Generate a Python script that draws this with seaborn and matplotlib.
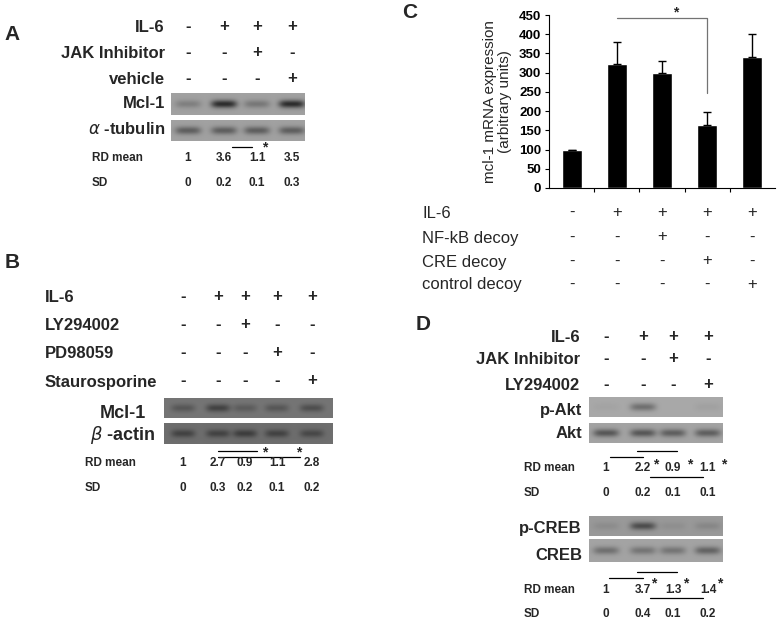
import numpy as np
import pandas as pd
import seaborn as sns
from matplotlib import pyplot as plt
from matplotlib.transforms import blended_transform_factory

# ---- panel C: mcl-1 mRNA expression (bar chart) ----
c_groups = ["g1", "g2", "g3", "g4", "g5"]
c_values = [100, 323, 298, 165, 340]
c_errors = [0, 57, 33, 33, 60]
c_yticks = [0, 50, 100, 150, 200, 250, 300, 350, 400, 450]
c_rows = ["IL-6", "NF-kB decoy", "CRE decoy", "control decoy"]
c_signs = [["-", "+", "+", "+", "+"],
           ["-", "-", "+", "-", "-"],
           ["-", "-", "-", "+", "-"],
           ["-", "-", "-", "-", "+"]]

# ---- panel A ----
a_rows = ["IL-6", "JAK Inhibitor", "vehicle"]
a_signs = [["-", "+", "+", "+"],
           ["-", "-", "+", "-"],
           ["-", "-", "-", "+"]]
a_blots = ["Mcl-1", r"$\alpha$ -tubulin"]
a_bands = [[0.13, 0.46, 0.16, 0.46],
           [0.26, 0.26, 0.26, 0.26]]
a_rd = ["1", "3.6", "1.1", "3.5"]
a_sd = ["0", "0.2", "0.1", "0.3"]

# ---- panel B ----
b_rows = ["IL-6", "LY294002", "PD98059", "Staurosporine"]
b_signs = [["-", "+", "+", "+", "+"],
           ["-", "-", "+", "-", "-"],
           ["-", "-", "-", "+", "-"],
           ["-", "-", "-", "-", "+"]]
b_blots = ["Mcl-1", r"$\beta$ -actin"]
b_bands = [[0.12, 0.2, 0.1, 0.12, 0.15],
           [0.17, 0.17, 0.19, 0.17, 0.15]]
b_rd = ["1", "2.7", "0.9", "1.1", "2.8"]
b_sd = ["0", "0.3", "0.2", "0.1", "0.2"]

# ---- panel D ----
d_rows = ["IL-6", "JAK Inhibitor", "LY294002"]
d_signs = [["-", "+", "+", "+"],
           ["-", "-", "+", "-"],
           ["-", "-", "-", "+"]]
d_blots = ["p-Akt", "Akt", "p-CREB", "CREB"]
d_bands = [[0.02, 0.22, 0.0, 0.03],
           [0.3, 0.3, 0.27, 0.27],
           [0.05, 0.3, 0.04, 0.07],
           [0.2, 0.18, 0.18, 0.25]]
d_rd_akt = ["1", "2.2", "0.9", "1.1"]
d_sd_akt = ["0", "0.2", "0.1", "0.1"]
d_rd_creb = ["1", "3.7", "1.3", "1.4"]
d_sd_creb = ["0", "0.4", "0.1", "0.2"]

sns.set_style("ticks")
plt.rcParams['font.family'] = ['Liberation Sans', 'DejaVu Sans']

fig = plt.figure(figsize=(7.83, 6.23), dpi=100)
bg = fig.add_axes([0, 0, 1, 1])
bg.set_xlim(0, 783)
bg.set_ylim(623, 0)
bg.set_autoscale_on(False)
bg.axis("off")

LBL = 12
SMALL = 8.5


def txt(x, y, s, ha="center", size=LBL, weight="bold", **kw):
    bg.text(x, y, s, ha=ha, va="center", fontsize=size,
            fontweight=weight, **kw)


def blot(x0, x1, y0, y1, lanes, dark, base, hw=13, hh=4.0):
    xs = np.linspace(x0, x1, int(x1 - x0) * 2)
    ys = np.linspace(y0, y1, int(y1 - y0) * 2)
    X, Y = np.meshgrid(xs, ys)
    img = np.full_like(X, base)
    yc = (y0 + y1) / 2
    for xc, d in zip(lanes, dark):
        img -= d * np.exp(-((X - xc) / hw) ** 4) * np.exp(-((Y - yc) / hh) ** 2)
    bg.imshow(img, extent=(x0, x1, y1, y0), cmap="gray", vmin=0, vmax=1,
              aspect="auto", interpolation="bilinear")


def sig(x0, x1, y, color="black"):
    bg.plot([x0, x1], [y, y], color=color, lw=0.9)


def star(x, y):
    txt(x, y, "*", size=10)


# ---------------- panel A ----------------
txt(12, 35, "A", size=15)
a_cols = [188, 224, 257, 292]
for r, (lab, yy) in enumerate(zip(a_rows, [27, 53, 80])):
    txt(165, yy, lab, ha="right")
    for x, s in zip(a_cols, a_signs[r]):
        txt(x, yy - 1, s)
for lab, yy, dk, (y0, y1) in zip(a_blots, [104, 129], a_bands,
                                 [(93, 115), (120, 141)]):
    txt(165, yy, lab, ha="right")
    blot(171, 305, y0, y1, a_cols, dk, 0.63)
txt(92, 158, "RD mean", ha="left", size=SMALL)
txt(92, 183, "SD", ha="left", size=SMALL)
for x, v, s in zip(a_cols, a_rd, a_sd):
    txt(x, 158, v, size=SMALL)
    txt(x, 183, s, size=SMALL)
sig(232, 252, 147)
star(265, 147)

# ---------------- panel B ----------------
txt(12, 262, "B", size=15)
b_cols = [183, 218, 245, 277, 312]
for r, (lab, yy) in enumerate(zip(b_rows, [297, 325, 353, 382])):
    txt(45, yy, lab, ha="left")
    for x, s in zip(b_cols, b_signs[r]):
        txt(x, yy - 1, s)
for lab, yy, dk, (y0, y1), base in zip(b_blots, [413, 435], b_bands,
                                       [(398, 418), (423, 444)], [0.46, 0.43]):
    txt(123, yy, lab, size=13)
    blot(164, 333, y0, y1, b_cols, dk, base, hw=12)
txt(85, 463, "RD mean", ha="left", size=SMALL)
txt(85, 488, "SD", ha="left", size=SMALL)
for x, v, s in zip(b_cols, b_rd, b_sd):
    txt(x, 463, v, size=SMALL)
    txt(x, 488, s, size=SMALL)
sig(218, 257, 451)
sig(218, 300, 457)
star(265, 452)
star(299, 452)

# ---------------- panel C ----------------
txt(410, 12, "C", size=15)
ax = fig.add_axes([549 / 783, 1 - 188 / 623, 226 / 783, 173 / 623])
df = pd.DataFrame({"group": c_groups, "value": c_values})
sns.barplot(data=df, x="group", y="value", color="black", width=0.44,
            saturation=1, ax=ax)
ax.errorbar(range(len(c_values)), c_values,
            yerr=[np.zeros(len(c_errors)), c_errors], fmt="none",
            ecolor="black", elinewidth=1, capsize=3, capthick=1)
ax.set_xlim(-0.5, 4.5)
ax.set_ylim(0, 450)
ax.set_yticks(c_yticks)
ax.set_yticklabels([str(t) for t in c_yticks], fontsize=9.5, fontweight="bold")
ax.set_xticks([0.5, 1.5, 2.5, 3.5])
ax.set_xticklabels([])
ax.tick_params(axis="both", direction="out", length=3, width=0.8,
               colors="black", pad=2.5)
ax.set_xlabel("")
ax.set_ylabel("mcl-1 mRNA expression\n(arbitrary units)", fontsize=11,
              labelpad=5, linespacing=1.1)
for sp in ["top", "right"]:
    ax.spines[sp].set_visible(False)
for sp in ["left", "bottom"]:
    ax.spines[sp].set_linewidth(0.8)
    ax.spines[sp].set_color("black")
ax.plot([1, 3, 3], [442, 442, 247], color="0.45", lw=0.9, clip_on=False)
ax.text(2.3, 456, "*", ha="center", va="center", fontsize=10,
        fontweight="bold", clip_on=False)

tr = blended_transform_factory(ax.transData, bg.transData)
for r, (lab, yy) in enumerate(zip(c_rows, [213, 238, 262, 285])):
    txt(422, yy, lab, ha="left", weight="normal")
    for i, s in enumerate(c_signs[r]):
        bg.text(i, yy - 1, s, transform=tr, ha="center", va="center",
                fontsize=LBL)

# ---------------- panel D ----------------
txt(423, 324, "D", size=15)
d_cols = [606, 643, 673, 708]
for r, (lab, yy) in enumerate(zip(d_rows, [337, 360, 385])):
    txt(580, yy, lab, ha="right")
    for x, s in zip(d_cols, d_signs[r]):
        txt(x, yy - 1, s)
blot_y = [(397, 417), (423, 443), (516, 536), (539, 562)]
lab_y = [411, 433, 529, 555]
bases = [0.66, 0.64, 0.6, 0.64]
for lab, yy, dk, (y0, y1), base in zip(d_blots, lab_y, d_bands, blot_y, bases):
    txt(582, yy, lab, ha="right")
    blot(589, 723, y0, y1, d_cols, dk, base)
for (rd, sd, yr, ys) in [(d_rd_akt, d_sd_akt, 468, 493),
                         (d_rd_creb, d_sd_creb, 590, 614)]:
    txt(524, yr, "RD mean", ha="left", size=SMALL)
    txt(524, ys, "SD", ha="left", size=SMALL)
    for x, v, s in zip(d_cols, rd, sd):
        txt(x, yr, v, size=SMALL)
        txt(x, ys, s, size=SMALL)
sig(610, 643, 457)
sig(637, 677, 451)
sig(650, 703, 477)
star(656, 464)
star(690, 464)
star(724, 464)
sig(609, 643, 578)
sig(637, 677, 572)
sig(650, 703, 598)
star(654, 583)
star(686, 583)
star(720, 583)

fig.savefig("out.png", dpi=100)
